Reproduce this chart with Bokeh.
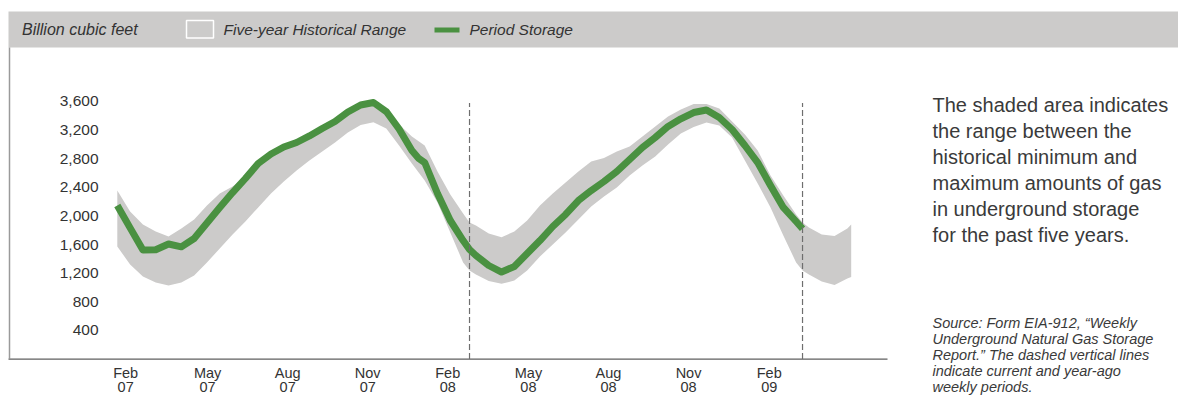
from bokeh.plotting import figure
from bokeh.models import Range1d, ColumnDataSource
from bokeh.core.properties import value
from bokeh.embed import file_html
from bokeh.resources import INLINE

# ---------------- data (weeks since the first weekly report shown) ----------------
storage_weeks = [0, 2, 4, 6, 8, 10, 12, 14, 16, 18, 20, 22, 24, 26, 28, 30, 32, 34, 36, 38,
                 40, 42, 44, 46, 47, 48, 50, 52, 54, 55, 56, 58, 60, 62, 64, 66, 68, 70, 72,
                 74, 76, 78, 80, 82, 84, 86, 88, 90, 92, 94, 96, 98, 100, 102, 104, 106, 107]
storage_bcf = [2147, 1834, 1525, 1529, 1608, 1569, 1685, 1902, 2119, 2328, 2524, 2734, 2866,
               2964, 3027, 3118, 3223, 3320, 3453, 3551, 3586, 3460, 3216, 2915, 2810, 2747,
               2314, 1937, 1657, 1532, 1448, 1308, 1217, 1294, 1476, 1657, 1853, 2021, 2216,
               2356, 2482, 2622, 2789, 2957, 3097, 3251, 3358, 3446, 3481, 3376, 3209, 2985,
               2747, 2426, 2119, 1923, 1821]

band_weeks = [0, 2, 4, 6, 8, 10, 12, 14, 16, 18, 20, 22, 24, 26, 28, 30, 32, 34, 36, 38, 40,
              42, 44, 46, 48, 50, 52, 54, 55, 56, 58, 60, 62, 64, 66, 68, 70, 72, 74, 76, 78,
              80, 82, 84, 86, 88, 90, 92, 94, 96, 98, 100, 102, 104, 106, 107, 108, 110, 112,
              114, 114.6]
band_max = [2356, 2063, 1881, 1783, 1713, 1825, 1951, 2147, 2314, 2412, 2552, 2747, 2845, 2950,
            3010, 3104, 3209, 3306, 3439, 3537, 3572, 3440, 3279, 3111, 2985, 2620, 2300, 2035,
            1909, 1867, 1755, 1704, 1783, 1937, 2147, 2314, 2468, 2622, 2761, 2810, 2901, 2971,
            3111, 3251, 3390, 3488, 3565, 3565, 3502, 3320, 3139, 2915, 2566, 2286, 2021, 1909,
            1839, 1741, 1720, 1825, 1881]
band_min = [1574, 1322, 1154, 1070, 1029, 1070, 1168, 1350, 1546, 1741, 1923, 2119, 2314, 2482,
            2636, 2775, 2901, 3027, 3167, 3272, 3311, 3223, 2985, 2734, 2496, 2188, 1769, 1350,
            1238, 1182, 1091, 1052, 1098, 1238, 1434, 1602, 1769, 1951, 2133, 2272, 2398, 2566,
            2706, 2831, 2999, 3153, 3244, 3307, 3265, 3097, 2775, 2454, 2119, 1727, 1350, 1238,
            1182, 1084, 1036, 1126, 1147]

dashed_weeks = [55, 107]          # year-ago and current weekly periods

tick_weeks = [1.3, 14.1, 26.6, 39.1, 51.6, 64.2, 76.7, 89.2, 101.8]
tick_months = ["Feb", "May", "Aug", "Nov", "Feb", "May", "Aug", "Nov", "Feb"]
tick_years = ["07", "07", "07", "07", "08", "08", "08", "08", "09"]

y_ticks = [400, 800, 1200, 1600, 2000, 2400, 2800, 3200, 3600]
y_tick_labels = ["{:,}".format(v) for v in y_ticks]

unit_label = "Billion cubic feet"
band_label = "Five-year Historical Range"
line_label = "Period Storage"
note_lines = ["The shaded area indicates", "the range between the",
              "historical minimum and", "maximum amounts of gas",
              "in underground storage", "for the past five years."]
source_lines = ["Source: Form EIA-912, \u201cWeekly", "Underground Natural Gas Storage",
                "Report.\u201d The dashed vertical lines", "indicate current and year-ago",
                "weekly periods."]

# ---------------- layout / style ----------------
FIG_W, FIG_H = 1178, 405
X0_PX, PX_PER_WEEK = 116.8, 6.404      # canvas x of week 0, pixels per week
Y0_PX, BCF_PER_PX = 358.6, 13.975      # canvas y of 0 Bcf, Bcf per pixel

def wx(px):
    return (px - X0_PX) / PX_PER_WEEK

def vy(py):
    return (Y0_PX - py) * BCF_PER_PX

FONT = value("Liberation Sans")
TXT = "#333333"
GREY = "#cccbca"
GREEN = "#4a9141"
DASH_TOP = 3580

p = figure(width=FIG_W, height=FIG_H,
           x_range=Range1d(wx(0), wx(FIG_W)),
           y_range=Range1d(vy(FIG_H), vy(0)),
           output_backend="svg", toolbar_location=None, title=None,
           x_axis_location=None, y_axis_location=None, min_border=0,
           min_border_left=0, min_border_right=0, min_border_top=0, min_border_bottom=0,
           outline_line_color=None, background_fill_color="white", border_fill_color="white")
p.grid.grid_line_color = None

# header bar with legend
p.quad(left=[wx(8)], right=[wx(FIG_W)], bottom=[vy(47)], top=[vy(11)],
       fill_color=GREY, line_color=None)
p.text(x=[wx(21.5)], y=[vy(29)], text=[unit_label], text_font=FONT, text_font_size="16px",
       text_font_style="italic", text_color=TXT, text_align="left", text_baseline="middle")
p.quad(left=[wx(186)], right=[wx(213)], top=[vy(20)], bottom=[vy(37.5)],
       fill_color=GREY, line_color="white", line_width=1.5)
p.text(x=[wx(223)], y=[vy(29)], text=[band_label], text_font=FONT, text_font_size="15.5px",
       text_font_style="italic", text_color=TXT, text_align="left", text_baseline="middle")
p.segment(x0=[wx(434)], y0=[vy(29.5)], x1=[wx(459)], y1=[vy(29.5)], line_color=GREEN,
          line_width=5, line_cap="butt")
p.text(x=[wx(469)], y=[vy(29)], text=[line_label], text_font=FONT, text_font_size="15.5px",
       text_font_style="italic", text_color=TXT, text_align="left", text_baseline="middle")

# frame lines
p.segment(x0=[wx(9)], y0=[vy(47)], x1=[wx(9)], y1=[vy(358)], line_color="#9a9a9a", line_width=1.5)
p.segment(x0=[wx(8)], y0=[0], x1=[wx(887)], y1=[0], line_color="#5f5f5f", line_width=1.2)

# data
band_src = ColumnDataSource(dict(w=band_weeks, lo=band_min, hi=band_max))
p.varea(x="w", y1="lo", y2="hi", source=band_src, fill_color=GREY)
line_src = ColumnDataSource(dict(w=storage_weeks, v=storage_bcf))
p.line(x="w", y="v", source=line_src, line_color=GREEN, line_width=7,
       line_join="round", line_cap="butt")
p.segment(x0=dashed_weeks, x1=dashed_weeks, y0=[0] * len(dashed_weeks),
          y1=[DASH_TOP] * len(dashed_weeks), line_color="#6e6e6e", line_width=1.2,
          line_dash="6 3")

# y tick labels (inside the frame)
p.text(x=[wx(98)] * len(y_ticks), y=y_ticks, text=y_tick_labels, text_font=FONT,
       text_font_size="15.5px", text_color=TXT, text_align="right", text_baseline="middle")

# x tick labels (two rows)
p.text(x=tick_weeks, y=[vy(372)] * len(tick_weeks), text=tick_months, text_font=FONT,
       text_font_size="14.5px", text_color=TXT, text_align="center", text_baseline="middle")
p.text(x=tick_weeks, y=[vy(386.5)] * len(tick_weeks), text=tick_years, text_font=FONT,
       text_font_size="14.5px", text_color=TXT, text_align="center", text_baseline="middle")

# right-hand notes
p.text(x=[wx(932)] * len(note_lines), y=[vy(104 + 26 * i) for i in range(len(note_lines))],
       text=note_lines, text_font=FONT, text_font_size="20px", text_color="#3a3a3a",
       text_align="left", text_baseline="middle")
p.text(x=[wx(932)] * len(source_lines), y=[vy(322 + 16 * i) for i in range(len(source_lines))],
       text=source_lines, text_font=FONT, text_font_size="14.5px", text_font_style="italic",
       text_color="#3a3a3a", text_align="left", text_baseline="middle")

open("out.html", "w").write(file_html(p, INLINE))
